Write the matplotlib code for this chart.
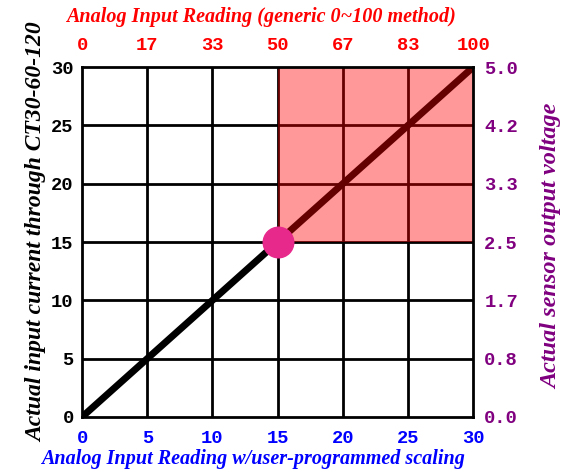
import matplotlib.pyplot as plt

# values
ticks = [0, 5, 10, 15, 20, 25, 30]
top_labels = ["0", "17", "33", "50", "67", "83", "100"]
right_labels = ["0.0", "0.8", "1.7", "2.5", "3.3", "4.2", "5.0"]
line_x = [0, 30]
line_y = [0, 30]
point = (15, 15)
zone_x = (15, 30)
zone_y = (15, 30)

mono = {"family": "Liberation Mono", "weight": "bold", "size": 13.5}
serif = {"family": "Liberation Serif", "weight": "bold", "style": "italic", "size": 14.5}

fig = plt.figure(figsize=(5.64, 4.69), dpi=100)
ax = fig.add_axes([0.1455, 0.111, 0.6935, 0.746])

ax.set_xlim(0, 30)
ax.set_ylim(0, 30)
for t in ticks[1:-1]:
    ax.axvline(t, color="black", lw=2, zorder=1)
    ax.axhline(t, color="black", lw=2, zorder=1)
ax.plot(line_x, line_y, color="black", lw=5, solid_capstyle="round", zorder=2)
ax.fill_between(zone_x, zone_y[0], zone_y[1], color="red", alpha=0.4, lw=0, zorder=3)
ax.plot(*point, "o", color="#e8298c", ms=22, zorder=5)

for s in ax.spines.values():
    s.set_linewidth(2)
    s.set_zorder(4)

ax.set_xticks(ticks)
ax.set_yticks(ticks)
ax.tick_params(axis="x", length=0, pad=9.5)
ax.tick_params(axis="y", length=0, pad=6)
for lab in ax.get_xticklabels():
    lab.set(**mono, color="blue")
for lab in ax.get_yticklabels():
    lab.set(**mono, color="black")
ax.set_xlabel("Analog Input Reading w/user-programmed scaling", color="blue",
              labelpad=1, x=0.437, **serif)
ax.set_ylabel("Actual input current through CT30-60-120", color="black",
              labelpad=3, y=0.529, **{**serif, "size": 17})

top = ax.twiny()
top.set_xlim(0, 30)
top.set_xticks(ticks, top_labels)
top.tick_params(length=0, pad=9.5)
for lab in top.get_xticklabels():
    lab.set(**mono, color="red")
top.set_xlabel("Analog Input Reading (generic 0~100 method)", color="red",
               labelpad=11, x=0.458, **serif)

right = ax.twinx()
right.set_ylim(0, 30)
right.set_yticks(ticks, right_labels)
right.tick_params(length=0, pad=8)
for lab in right.get_yticklabels():
    lab.set(**mono, color="purple")
right.set_ylabel("Actual sensor output voltage", color="purple",
                 labelpad=17, y=0.489, **{**serif, "size": 17.5})

for a in (top, right):
    for s in a.spines.values():
        s.set_visible(False)

fig.savefig("out.png", dpi=100)
